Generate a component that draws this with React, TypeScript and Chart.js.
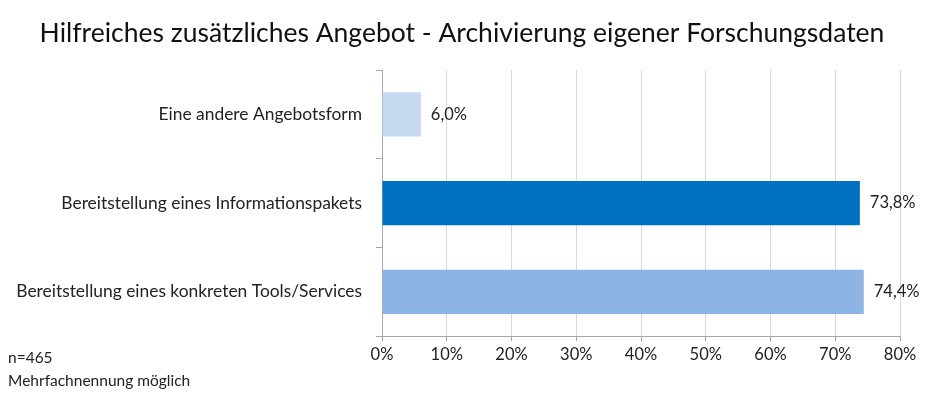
import React, { useEffect, useRef } from "react";
import { Chart, registerables } from "chart.js";

Chart.register(...registerables);

const categories = [
  "Eine andere Angebotsform",
  "Bereitstellung eines Informationspakets",
  "Bereitstellung eines konkreten Tools/Services",
];
const values = [6.0, 73.8, 74.4];
const barColors = ["#C6D9F1", "#0070C0", "#8DB4E2"];
const xTicks = [0, 10, 20, 30, 40, 50, 60, 70, 80];
const titleText = "Hilfreiches zusätzliches Angebot - Archivierung eigener Forschungsdaten";
const noteLines = ["n=465", "Mehrfachnennung möglich"];

const FONT = "Lato, 'Open Sans', sans-serif";

export default function App() {
  const ref = useRef<HTMLCanvasElement | null>(null);

  useEffect(() => {
    document.body.style.margin = "0";
    const canvas = ref.current;
    if (!canvas) return;

    const labelPlugin = {
      id: "valueLabels",
      afterDatasetsDraw(chart: any) {
        const ctx = chart.ctx;
        const meta = chart.getDatasetMeta(0);
        ctx.save();
        ctx.font = `16.5px ${FONT}`;
        ctx.fillStyle = "#222";
        ctx.textAlign = "left";
        ctx.textBaseline = "middle";
        meta.data.forEach((bar: any, i: number) => {
          const txt = values[i].toFixed(1).replace(".", ",") + "%";
          ctx.fillText(txt, bar.x + 10, bar.y);
        });
        ctx.restore();
      },
    };

    const textPlugin = {
      id: "texts",
      afterDraw(chart: any) {
        const ctx = chart.ctx;
        ctx.save();
        ctx.fillStyle = "#111";
        ctx.textAlign = "center";
        ctx.textBaseline = "middle";
        ctx.font = `26.5px ${FONT}`;
        ctx.fillText(titleText, 462, 33);
        ctx.font = `15.5px ${FONT}`;
        ctx.fillStyle = "#222";
        ctx.textAlign = "left";
        ctx.fillText(noteLines[0], 8, 358);
        ctx.fillText(noteLines[1], 8, 381);
        ctx.restore();
      },
    };

    const chart = new Chart(canvas, {
      type: "bar",
      data: {
        labels: categories,
        datasets: [
          {
            data: values,
            backgroundColor: barColors,
            borderWidth: 0,
            categoryPercentage: 1,
            barPercentage: 0.5,
          },
        ],
      },
      options: {
        indexAxis: "y",
        animation: false,
        responsive: false,
        maintainAspectRatio: false,
        layout: { padding: { left: 0, right: 28, top: 70, bottom: 25 } },
        plugins: {
          legend: { display: false },
          tooltip: { enabled: false },
          title: { display: false },
        },
        scales: {
          x: {
            min: 0,
            max: 80,
            afterBuildTicks(axis: any) {
              axis.ticks = xTicks.map((v) => ({ value: v }));
            },
            ticks: {
              callback: (v: any) => v + "%",
              color: "#222",
              font: { family: FONT, size: 16.5 },
              padding: 4,
              maxRotation: 0,
            },
            grid: {
              color: "#D9D9D9",
              lineWidth: 1,
              tickLength: 5,
              tickColor: "#A6A6A6",
            },
            border: { color: "#A6A6A6", width: 1 },
          },
          y: {
            afterFit(axis: any) {
              axis.width = 382;
            },
            ticks: {
              color: "#222",
              font: { family: FONT, size: 17.4 },
              padding: 14,
            },
            grid: {
              offset: true,
              drawOnChartArea: false,
              tickLength: 6,
              color: "#A6A6A6",
            },
            border: { color: "#A6A6A6", width: 1 },
          },
        },
      },
      plugins: [labelPlugin, textPlugin],
    });

    return () => chart.destroy();
  }, []);

  return (
    <div style={{ position: "fixed", left: 0, top: 0, width: 928, height: 394, background: "#fff" }}>
      <canvas ref={ref} width={928} height={394} style={{ width: 928, height: 394, display: "block" }} />
    </div>
  );
}
